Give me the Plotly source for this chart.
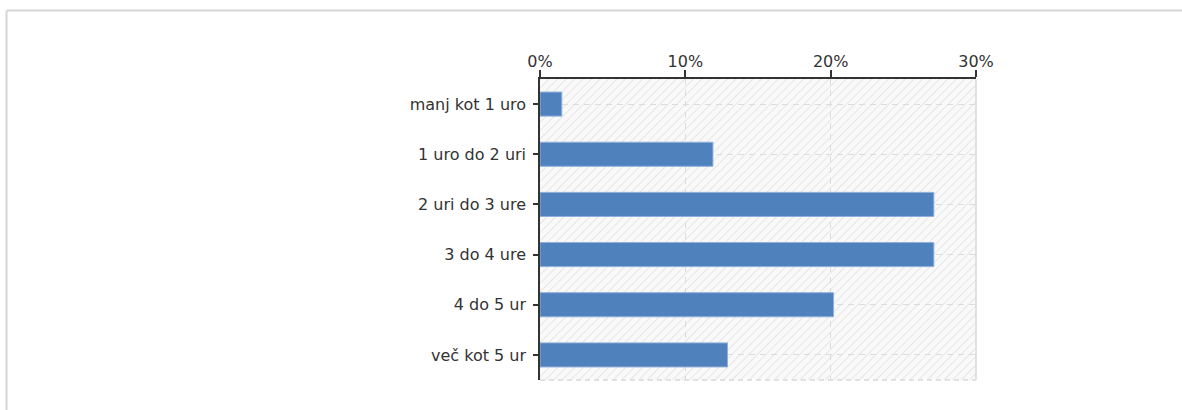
import base64
import plotly.graph_objects as go

# ---- data ----
categories = ["manj kot 1 uro", "1 uro do 2 uri", "2 uri do 3 ure",
              "3 do 4 ure", "4 do 5 ur", "več kot 5 ur"]
values = [1.5, 11.9, 27.1, 27.1, 20.2, 12.9]
x_ticks = [0, 10, 20, 30]
x_tick_labels = ["0%", "10%", "20%", "30%"]

# ---- layout constants (pixels) ----
W, H = 1182, 410
L, R, T, B = 540, 976, 79, 380
pw, ph = R - L, B - T
FONT = "DejaVu Sans"
TXT = "#333333"

positions = list(range(len(categories)))

fig = go.Figure()
fig.add_trace(go.Bar(
    x=values, y=positions, orientation="h", width=0.48,
    marker=dict(color="#4f81bd", line=dict(color="#8fb0da", width=1)),
    hoverinfo="x+y", showlegend=False,
))

# hatched plot background
svg = ('<svg xmlns="http://www.w3.org/2000/svg" width="%d" height="%d">'
       '<defs><pattern id="h" width="6" height="6" patternUnits="userSpaceOnUse" '
       'patternTransform="rotate(45)"><rect width="6" height="6" fill="#f9f9f9"/>'
       '<line x1="0" y1="0" x2="0" y2="6" stroke="#e6e6e6" stroke-width="2"/></pattern></defs>'
       '<rect width="100%%" height="100%%" fill="url(#h)"/></svg>') % (pw, ph)
uri = "data:image/svg+xml;base64," + base64.b64encode(svg.encode()).decode()

px2x = lambda p: (p - L) / pw
px2y = lambda p: (B - p) / ph

fig.update_layout(
    width=W, height=H,
    margin=dict(l=L, r=W - R, t=T, b=H - B, pad=0),
    paper_bgcolor="white", plot_bgcolor="#f8f8f8",
    font=dict(family=FONT, size=16, color=TXT),
    images=[dict(source=uri, xref="paper", yref="paper", x=0, y=1,
                 sizex=1, sizey=1, sizing="stretch", layer="below",
                 xanchor="left", yanchor="top")],
    shapes=[
        # outer frame (top and left)
        dict(type="line", xref="paper", yref="paper", x0=px2x(6.5), x1=px2x(W + 5),
             y0=px2y(10.5), y1=px2y(10.5), line=dict(color="#d6d6d6", width=2)),
        dict(type="line", xref="paper", yref="paper", x0=px2x(6.5), x1=px2x(6.5),
             y0=px2y(10.5), y1=px2y(H + 5), line=dict(color="#d6d6d6", width=2)),
        # right border and bottom dashed border of plot area
        dict(type="line", xref="paper", yref="paper", x0=1, x1=1, y0=0, y1=1,
             line=dict(color="#d9d9d9", width=1.5), layer="below"),
        dict(type="line", xref="paper", yref="paper", x0=0, x1=1, y0=0, y1=0,
             line=dict(color="#d9d9d9", width=1.5, dash="5px,4px"), layer="below"),
    ],
)

fig.update_xaxes(
    side="top", range=[0, 30], tickvals=x_ticks, ticktext=x_tick_labels,
    showgrid=True, gridcolor="#dcdcdc", gridwidth=1, griddash="6px,5px",
    showline=True, linecolor="#333333", linewidth=1.5,
    ticks="outside", ticklen=7, tickwidth=1.5, tickcolor="#333333",
    ticklabelstandoff=-3,
    zeroline=False, fixedrange=True,
)
fig.update_yaxes(
    range=[len(categories) - 0.5, -0.5], tickvals=positions, ticktext=categories,
    showgrid=True, gridcolor="#dcdcdc", gridwidth=1, griddash="6px,5px",
    showline=True, linecolor="#333333", linewidth=1.5,
    ticks="outside", ticklen=5, tickwidth=1.5, tickcolor="#333333",
    ticklabelstandoff=4,
    zeroline=False, fixedrange=True,
)

fig.write_html("out.html", config={"displayModeBar": False},
               post_script="document.body.style.margin='0';")
